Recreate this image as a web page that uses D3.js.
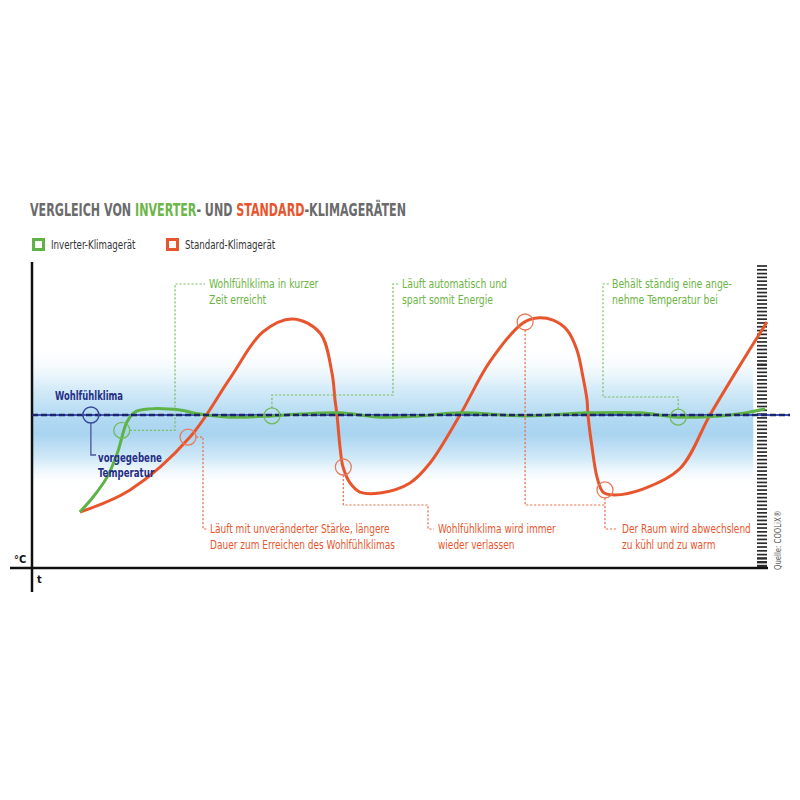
<!DOCTYPE html>
<html>
<head>
<meta charset="utf-8">
<script src="https://cdn.jsdelivr.net/npm/d3@7"></script>
<style>
  html, body { margin: 0; padding: 0; background: #fff; }
  svg { display: block; }
  text { font-family: "Liberation Sans Narrow", "DejaVu Sans Condensed", "Arial Narrow", sans-serif; }
</style>
</head>
<body>
<svg id="chart" width="800" height="800"></svg>
<script>
// ---------- DATA ----------
const comfortLevel = 5;               // "Wohlfühlklima" (target temperature)
// Inverter air conditioner (time t, temperature v)
const inverterT = [6.5, 8.3, 10.2, 11.6, 12.9, 14.0, 16.0, 20.1, 22.8, 26.9, 32.6, 36.4, 41.8, 47.3, 52.7, 58.2, 67.0, 75.4, 82.6, 87.8, 93.5, 96.9, 99.6];
const inverterV = [1.83, 2.32, 2.97, 3.76, 4.77, 5.10, 5.20, 5.16, 5.03, 4.93, 4.97, 5.03, 5.07, 4.93, 4.97, 5.07, 4.97, 5.07, 5.07, 4.93, 4.97, 5.07, 5.20];
// Standard air conditioner
const standardT = [6.52, 13.32, 21.47, 26.90, 31.39, 35.46, 39.13, 40.76, 41.17, 41.44, 41.85, 42.26, 43.21, 44.57, 47.28, 51.36, 54.08, 58.15, 62.23, 66.71, 68.61, 70.79, 72.69, 74.05, 74.86, 75.41, 75.54, 76.09, 76.77, 77.58, 78.94, 83.0, 88.04, 92.12, 96.20, 99.86];
const standardV = [1.83, 2.55, 4.28, 6.20, 7.72, 8.14, 7.68, 6.37, 5.49, 5.00, 3.95, 3.30, 2.78, 2.48, 2.45, 2.78, 3.43, 5.00, 6.75, 8.01, 8.17, 8.10, 7.78, 7.12, 6.24, 5.49, 5.00, 3.95, 2.97, 2.48, 2.39, 2.58, 3.25, 5.00, 6.63, 8.04];
// Marker circles
const inverterMarkT = [12.2, 32.6, 87.8];
const inverterMarkV = [4.5, 4.97, 4.93];
const standardMarkT = [21.2, 42.3, 67.0, 77.85];
const standardMarkV = [4.28, 3.30, 8.04, 2.55];
const targetMarkT = 8.0;
// Texts
const titleParts = ["VERGLEICH VON ", "INVERTER", "- UND ", "STANDARD", "-KLIMAGERÄTEN"];
const legendLabels = ["Inverter-Klimagerät", "Standard-Klimagerät"];
const inverterNotes = [["Wohlfühlklima in kurzer", "Zeit erreicht"], ["Läuft automatisch und", "spart somit Energie"], ["Behält ständig eine ange-", "nehme Temperatur bei"]];
const standardNotes = [["Läuft mit unveränderter Stärke, längere", "Dauer zum Erreichen des Wohlfühlklimas"], ["Wohlfühlklima wird immer", "wieder verlassen"], ["Der Raum wird abwechslend", "zu kühl und zu warm"]];
const comfortLabel = "Wohlfühlklima";
const targetLabel = ["vorgegebene", "Temperatur"];
const axisLabels = ["°C", "t"];
const sourceLabel = "Quelle: COOLiX®";

// ---------- STYLE ----------
const GREEN = "#5db346", ORANGE = "#e8552d", NAVY = "#262f85", GRAY = "#6b6b6b";
const GREEN_TXT = "#6cb444", ORANGE_TXT = "#e8572f";

const svg = d3.select("#chart");
const x = d3.scaleLinear().domain([0, 100]).range([32, 768]);
const y = d3.scaleLinear().domain([0, 10]).range([568, 262]);

function squeeze(sel, f) {
  const w = sel.node().getComputedTextLength();
  sel.attr("textLength", w * f).attr("lengthAdjust", "spacingAndGlyphs");
  return w * f;
}

// gradient band
const defs = svg.append("defs");
const grad = defs.append("linearGradient").attr("id", "band").attr("x1", 0).attr("x2", 0).attr("y1", 0).attr("y2", 1);
[[0, "#ffffff", 0], [0.3, "#d6ecf9", 1], [0.5, "#b3daf2", 1], [0.62, "#a8d4f0", 1], [0.8, "#d3eaf8", 1], [1, "#ffffff", 0]].forEach(s =>
  grad.append("stop").attr("offset", s[0]).attr("stop-color", s[1]).attr("stop-opacity", s[2]));
svg.append("rect").attr("x", x(0)).attr("width", x(98) - x(0))
  .attr("y", y(comfortLevel + 2.3)).attr("height", y(comfortLevel - 2.4) - y(comfortLevel + 2.3))
  .attr("fill", "url(#band)");

// title: pieces laid out one after another, whole group squeezed horizontally to the reference width
const titleColors = [GRAY, "#6db64a", GRAY, ORANGE, GRAY];
const titleG = svg.append("g");
const titleTexts = titleParts.map((p, i) => titleG.append("text").attr("y", 0).attr("font-size", 17)
  .attr("font-weight", "bold").attr("fill", titleColors[i]).style("white-space", "pre").text(p));
let tx = 0;
titleTexts.forEach(t => { t.attr("x", tx); tx += t.node().getComputedTextLength(); });
titleG.attr("transform", `translate(30,216) scale(${376 / tx},1)`);

// legend
const legendX = [32, 166];
legendLabels.forEach((lab, i) => {
  svg.append("rect").attr("x", legendX[i] + 1.5).attr("y", 239.5).attr("width", 10).attr("height", 10)
    .attr("fill", "none").attr("stroke", i ? ORANGE : GREEN).attr("stroke-width", 3);
  squeeze(svg.append("text").attr("x", legendX[i] + 19).attr("y", 249).attr("font-size", 11.5).attr("fill", "#333").text(lab), 0.84);
});

// axes
svg.append("line").attr("x1", x(0)).attr("x2", x(0)).attr("y1", 262).attr("y2", 592).attr("stroke", "#111").attr("stroke-width", 2.5);
svg.append("line").attr("x1", 10).attr("x2", 768).attr("y1", y(0)).attr("y2", y(0)).attr("stroke", "#111").attr("stroke-width", 2.5);
svg.append("text").attr("x", 14).attr("y", 563).attr("font-size", 11).attr("font-weight", "bold").attr("fill", "#111").text(axisLabels[0]);
svg.append("text").attr("x", 37).attr("y", 583).attr("font-size", 11).attr("font-weight", "bold").attr("fill", "#111").text(axisLabels[1]);

// right tick ladder
const ladder = d3.scaleLinear().domain([0, 79]).range([266, 566]);
svg.append("g").selectAll("line").data(d3.range(80)).join("line")
  .attr("x1", 757).attr("x2", 767).attr("y1", d => ladder(d)).attr("y2", d => ladder(d))
  .attr("stroke", "#2a2a2a").attr("stroke-width", d => (d === 26 || d >= 77) ? 2.4 : 1.7);
squeeze(svg.append("text").attr("transform", "translate(781,570) rotate(-90)").attr("font-size", 8.5).attr("fill", "#555").text(sourceLabel), 0.9);

// comfort line (blue base)
svg.append("line").attr("x1", x(0)).attr("x2", 790).attr("y1", y(comfortLevel)).attr("y2", y(comfortLevel))
  .attr("stroke", "#3b56c4").attr("stroke-width", 2);

// curves
const line = d3.line().x(d => x(d[0])).y(d => y(d[1])).curve(d3.curveCatmullRom.alpha(0.5));
const standardData = standardT.map((t, i) => [t, standardV[i]]);
const inverterData = inverterT.map((t, i) => [t, inverterV[i]]);
svg.append("path").datum(standardData).attr("d", line).attr("fill", "none").attr("stroke", ORANGE).attr("stroke-width", 3);
svg.append("path").datum(inverterData).attr("d", line).attr("fill", "none").attr("stroke", GREEN).attr("stroke-width", 3);

// comfort line dashes on top
svg.append("line").attr("x1", x(0)).attr("x2", 790).attr("y1", y(comfortLevel)).attr("y2", y(comfortLevel))
  .attr("stroke", "#1e2566").attr("stroke-width", 2.4).attr("stroke-dasharray", "6,3");

// connectors
function connector(points, color) {
  svg.append("path").attr("d", d3.line()(points)).attr("fill", "none").attr("stroke", color)
    .attr("stroke-width", 1.2).attr("stroke-dasharray", "2.2,1.8");
}
const gm = inverterMarkT.map((t, i) => [x(t), y(inverterMarkV[i])]);
const sm = standardMarkT.map((t, i) => [x(t), y(standardMarkV[i])]);
const GC = "#7dbf63", OC = "#e9704a";
connector([[gm[0][0] + 8, gm[0][1]], [175, gm[0][1]], [175, 284], [205, 284]], GC);
connector([[gm[1][0], gm[1][1] - 8], [gm[1][0], 395], [393, 395], [393, 284], [399, 284]], GC);
connector([[gm[2][0], gm[2][1] - 8], [gm[2][0], 397], [603, 397], [603, 284], [609, 284]], GC);
connector([[sm[0][0] + 8, sm[0][1]], [203, sm[0][1]], [203, 529], [208, 529]], OC);
connector([[sm[1][0], sm[1][1] + 8], [sm[1][0], 505], [428, 505], [428, 529], [434, 529]], OC);
connector([[sm[2][0], sm[2][1] + 8], [sm[2][0], 505], [sm[3][0], 505]], OC);
connector([[sm[3][0], sm[3][1] + 8], [sm[3][0], 529], [618, 529]], OC);

// target marker
const tm = [x(targetMarkT), y(comfortLevel)];
svg.append("path").attr("d", d3.line()([[tm[0], tm[1] + 8], [tm[0], 455], [96, 455]])).attr("fill", "none")
  .attr("stroke", "#4a5596").attr("stroke-width", 1.3);

// marker circles
svg.append("g").selectAll("circle").data(gm).join("circle").attr("cx", d => d[0]).attr("cy", d => d[1]).attr("r", 8)
  .attr("fill", "none").attr("stroke", "#72bb5c").attr("stroke-width", 1.3);
svg.append("g").selectAll("circle").data(sm).join("circle").attr("cx", d => d[0]).attr("cy", d => d[1]).attr("r", 8)
  .attr("fill", "none").attr("stroke", "#e77a5a").attr("stroke-width", 1.3);
svg.append("circle").attr("cx", tm[0]).attr("cy", tm[1]).attr("r", 8).attr("fill", "none").attr("stroke", "#3a4a9a").attr("stroke-width", 1.5);

// labels
squeeze(svg.append("text").attr("x", 55).attr("y", 400).attr("font-size", 12).attr("font-weight", "bold").attr("fill", NAVY).text(comfortLabel), 0.78);
targetLabel.forEach((t, i) => squeeze(svg.append("text").attr("x", 98).attr("y", 462 + i * 15).attr("font-size", 12)
  .attr("font-weight", "bold").attr("fill", NAVY).text(t), 0.8));

const gNoteX = [209, 402, 612];
inverterNotes.forEach((lines, k) => lines.forEach((t, i) =>
  squeeze(svg.append("text").attr("x", gNoteX[k]).attr("y", 288 + i * 16).attr("font-size", 11.5).attr("fill", GREEN_TXT).text(t), 0.9)));
const sNoteX = [210, 438, 622];
standardNotes.forEach((lines, k) => lines.forEach((t, i) =>
  squeeze(svg.append("text").attr("x", sNoteX[k]).attr("y", 533 + i * 16).attr("font-size", 11.5).attr("fill", ORANGE_TXT).text(t), 0.87)));
</script>
</body>
</html>
